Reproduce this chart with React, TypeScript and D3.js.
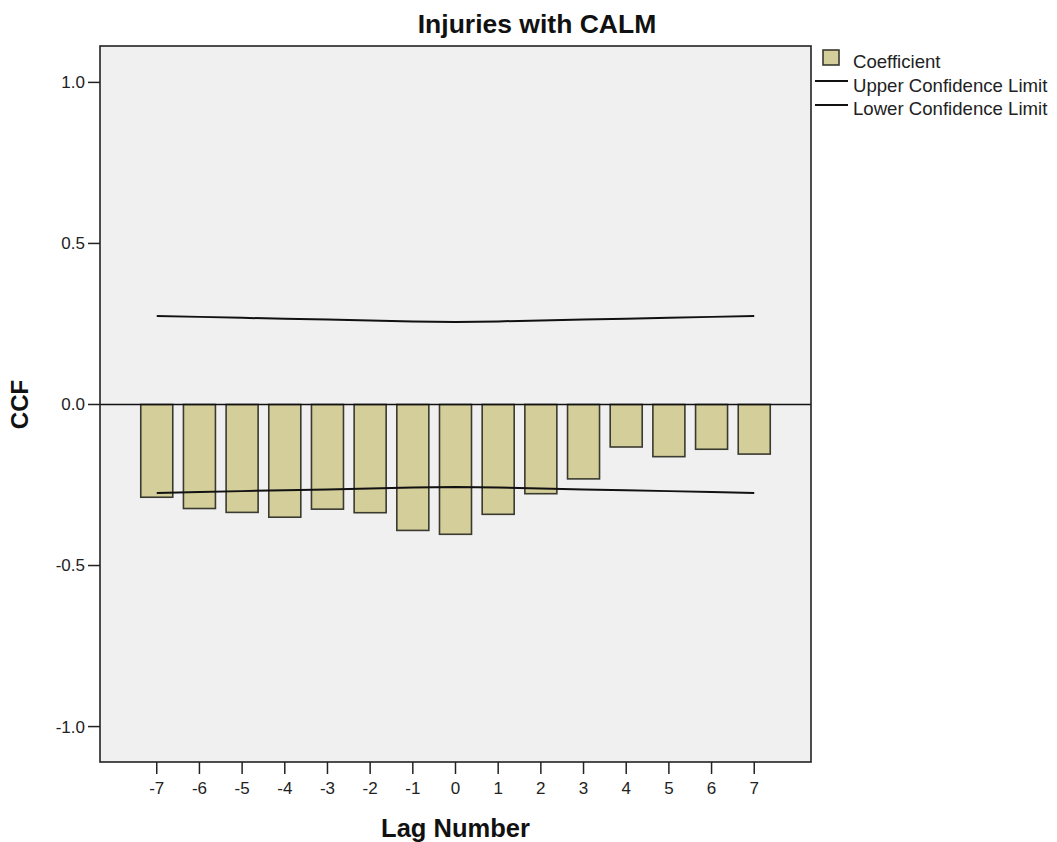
import React from "react";
import * as d3 from "d3";

const lags = [-7, -6, -5, -4, -3, -2, -1, 0, 1, 2, 3, 4, 5, 6, 7];
const coefficients = [-0.288, -0.323, -0.335, -0.35, -0.325, -0.336, -0.391, -0.403, -0.341, -0.277, -0.231, -0.132, -0.162, -0.139, -0.154];
const upperLimit = [0.275, 0.272, 0.269, 0.266, 0.264, 0.261, 0.258, 0.256, 0.258, 0.261, 0.264, 0.266, 0.269, 0.272, 0.275];
const lowerLimit = [-0.275, -0.272, -0.269, -0.266, -0.264, -0.261, -0.258, -0.256, -0.258, -0.261, -0.264, -0.266, -0.269, -0.272, -0.275];
const yTicks = [-1.0, -0.5, 0.0, 0.5, 1.0];
const legendItems = ["Coefficient", "Upper Confidence Limit", "Lower Confidence Limit"];

const W = 1057, H = 842;
const plot = { left: 100, right: 811, top: 46, bottom: 762 };
const FONT = "Arial, 'Liberation Sans', sans-serif";
const BAR_FILL = "#d3ce9a";
const BAR_STROKE = "#3a3a30";

const fmt = (t: number) => d3.format(".1f")(t).replace("\u2212", "-");

export default function App() {
  const x = d3.scaleLinear().domain([-8.33, 8.33]).range([plot.left, plot.right]);
  const y = d3.scaleLinear().domain([-1.11, 1.113]).range([plot.bottom, plot.top]);
  const step = x(1) - x(0);
  const bw = step * 0.75;
  const line = d3
    .line<number>()
    .x((_, i) => x(lags[i]))
    .y((d) => y(d));

  return (
    <svg
      width={W}
      height={H}
      style={{ position: "absolute", left: 0, top: 0, background: "#fff" }}
      fontFamily={FONT}
    >
      <rect x={0} y={0} width={W} height={H} fill="#fff" />
      <text x={537} y={33} textAnchor="middle" fontSize={26.5} fontWeight="bold" fill="#111">
        Injuries with CALM
      </text>
      <rect
        x={plot.left}
        y={plot.top}
        width={plot.right - plot.left}
        height={plot.bottom - plot.top}
        fill="#f0f0f0"
      />
      {lags.map((l, i) => {
        const v = coefficients[i];
        const y0 = y(Math.max(0, v));
        const y1 = y(Math.min(0, v));
        return (
          <rect
            key={l}
            x={x(l) - bw / 2}
            y={y0}
            width={bw}
            height={y1 - y0}
            fill={BAR_FILL}
            stroke={BAR_STROKE}
            strokeWidth={1.6}
          />
        );
      })}
      <line x1={plot.left} x2={plot.right} y1={y(0)} y2={y(0)} stroke="#111" strokeWidth={1.6} />
      <path d={line(upperLimit) || ""} fill="none" stroke="#111" strokeWidth={2} />
      <path d={line(lowerLimit) || ""} fill="none" stroke="#111" strokeWidth={2} />
      <rect
        x={plot.left}
        y={plot.top}
        width={plot.right - plot.left}
        height={plot.bottom - plot.top}
        fill="none"
        stroke="#222"
        strokeWidth={1.6}
      />
      {yTicks.map((t) => (
        <g key={t}>
          <line x1={plot.left - 12} x2={plot.left} y1={y(t)} y2={y(t)} stroke="#222" strokeWidth={1.5} />
          <text x={85} y={y(t)} dy="0.35em" textAnchor="end" fontSize={17} fill="#222">
            {fmt(t)}
          </text>
        </g>
      ))}
      {lags.map((l) => (
        <g key={l}>
          <line x1={x(l)} x2={x(l)} y1={plot.bottom} y2={plot.bottom + 12} stroke="#222" strokeWidth={1.5} />
          <text x={x(l)} y={794} textAnchor="middle" fontSize={17} fill="#222">
            {String(l)}
          </text>
        </g>
      ))}
      <text x={(plot.left + plot.right) / 2} y={837} textAnchor="middle" fontSize={25.5} fontWeight="bold" fill="#111">
        Lag Number
      </text>
      <text
        transform={`translate(28, ${y(0)}) rotate(-90)`}
        textAnchor="middle"
        fontSize={24}
        fontWeight="bold"
        fill="#111"
      >
        CCF
      </text>
      {/* legend */}
      <rect x={823} y={50} width={16} height={15} fill={BAR_FILL} stroke={BAR_STROKE} strokeWidth={1.6} />
      <text x={853} y={67.5} fontSize={18.6} fill="#222">{legendItems[0]}</text>
      <line x1={815} x2={848} y1={81} y2={81} stroke="#111" strokeWidth={2} />
      <text x={853} y={91.5} fontSize={18.6} fill="#222">{legendItems[1]}</text>
      <line x1={815} x2={848} y1={105} y2={105} stroke="#111" strokeWidth={2} />
      <text x={853} y={114.5} fontSize={18.6} fill="#222">{legendItems[2]}</text>
    </svg>
  );
}
